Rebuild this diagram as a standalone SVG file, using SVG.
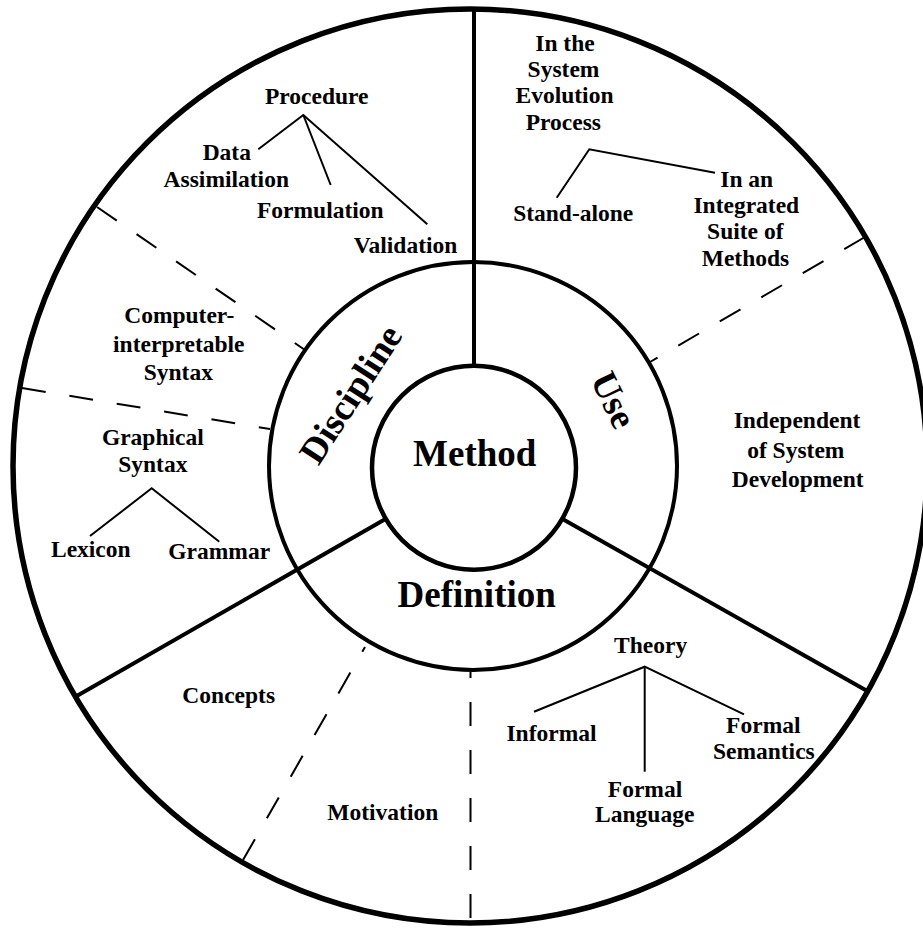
<svg xmlns="http://www.w3.org/2000/svg" width="923" height="928" viewBox="0 0 923 928">
<style>
text{font-family:"Liberation Serif","Times New Roman",serif;font-weight:bold;fill:#000;text-anchor:middle}
.lbl{font-size:23.5px}
.big{font-size:37px}
.ring{fill:none;stroke:#000}
.spoke{stroke:#000;stroke-width:4;fill:none}
.dash{stroke:#000;stroke-width:2;stroke-dasharray:24 24;fill:none}
.tree{stroke:#000;stroke-width:2;fill:none}
</style>
<rect width="923" height="928" fill="#fff"/>
<g id="rings">
<circle class="ring" cx="470" cy="466" r="457" stroke-width="5.5"/>
<circle class="ring" cx="473" cy="466" r="204" stroke-width="4"/>
</g>
<g id="connectors">
<line class="spoke" x1="474" y1="9" x2="474" y2="366"/>
<line class="spoke" x1="385.5" y1="519" x2="75" y2="697"/>
<line class="spoke" x1="562.5" y1="519" x2="869" y2="692"/>
<line class="dash" x1="97" y1="207" x2="305" y2="350"/>
<line class="dash" x1="22" y1="388" x2="270" y2="429"/>
<line class="dash" x1="865" y1="237" x2="650" y2="362"/>
<line class="dash" x1="470.5" y1="918" x2="470.5" y2="672"/>
<line class="dash" x1="243" y1="860" x2="365" y2="647"/>
<polyline class="tree" points="258.3,149.3 303.3,115 427.3,224.3"/>
<line class="tree" x1="303.3" y1="115" x2="330.7" y2="185"/>
<polyline class="tree" points="90,536 151.7,488.3 219.3,541.7"/>
<polyline class="tree" points="556.7,197.7 589.3,149.3 715,172.7"/>
<polyline class="tree" points="534,711.7 644.7,666.7 744,714.3"/>
<line class="tree" x1="644.7" y1="666.7" x2="644.7" y2="771.7"/>
</g>
<g id="method">
<circle class="ring" cx="474" cy="467.7" r="102" stroke-width="4.5"/>
<text class="big" x="474.7" y="466">Method</text>
</g>
<g id="discipline">
<text class="big" transform="translate(361,401) rotate(-57)">Discipline</text>
</g>
<g id="use">
<text class="big" transform="translate(602.5,405.3) rotate(64)">Use</text>
</g>
<g id="definition">
<text class="big" x="476.7" y="606.7">Definition</text>
</g>
<g id="procedure">
<text class="lbl" x="316.7" y="104.3">Procedure</text>
</g>
<g id="data-assimilation">
<text class="lbl" x="226.8" y="160">Data</text>
<text class="lbl" x="226.3" y="186.7">Assimilation</text>
</g>
<g id="formulation">
<text class="lbl" x="320.3" y="218.3">Formulation</text>
</g>
<g id="validation">
<text class="lbl" x="405.5" y="252.7">Validation</text>
</g>
<g id="computer-syntax">
<text class="lbl" x="179.2" y="323.3">Computer-</text>
<text class="lbl" x="178.8" y="351.7">interpretable</text>
<text class="lbl" x="178.3" y="380">Syntax</text>
</g>
<g id="graphical-syntax">
<text class="lbl" x="152.8" y="445">Graphical</text>
<text class="lbl" x="152.8" y="471.7">Syntax</text>
</g>
<g id="lexicon">
<text class="lbl" x="90.8" y="556.7">Lexicon</text>
</g>
<g id="grammar">
<text class="lbl" x="219.2" y="559.3">Grammar</text>
</g>
<g id="system-evolution">
<text class="lbl" x="565" y="50.7">In the</text>
<text class="lbl" x="563.5" y="77">System</text>
<text class="lbl" x="564.5" y="103.3">Evolution</text>
<text class="lbl" x="563.3" y="130">Process</text>
</g>
<g id="stand-alone">
<text class="lbl" x="573.2" y="221">Stand-alone</text>
</g>
<g id="integrated-suite">
<text class="lbl" x="746.7" y="186.7">In an</text>
<text class="lbl" x="746.3" y="212.7">Integrated</text>
<text class="lbl" x="745.3" y="239.3">Suite of</text>
<text class="lbl" x="745.5" y="265.7">Methods</text>
</g>
<g id="independent">
<text class="lbl" x="797" y="428.3">Independent</text>
<text class="lbl" x="795.8" y="458">of System</text>
<text class="lbl" x="797.7" y="486.7">Development</text>
</g>
<g id="theory">
<text class="lbl" x="650.6" y="653.3">Theory</text>
</g>
<g id="informal">
<text class="lbl" x="551.5" y="740.7">Informal</text>
</g>
<g id="formal-semantics">
<text class="lbl" x="763.3" y="733.3">Formal</text>
<text class="lbl" x="763.8" y="759.3">Semantics</text>
</g>
<g id="formal-language">
<text class="lbl" x="645" y="796.7">Formal</text>
<text class="lbl" x="644.7" y="822">Language</text>
</g>
<g id="concepts">
<text class="lbl" x="228.7" y="702.7">Concepts</text>
</g>
<g id="motivation">
<text class="lbl" x="382.8" y="820">Motivation</text>
</g>
</svg>
